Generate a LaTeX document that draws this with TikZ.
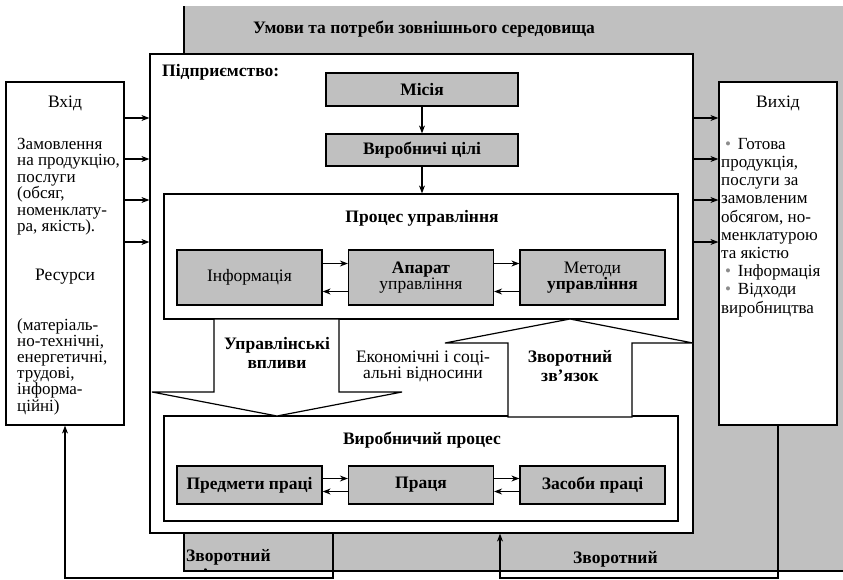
\documentclass[tikz,border=0pt]{standalone}
\usepackage{fontspec}
\setmainfont{Liberation Serif}
\usetikzlibrary{arrows.meta}
\definecolor{G0}{RGB}{192,192,192}
\definecolor{G1}{RGB}{140,140,140}
\newcommand{\gdot}{\hspace*{4pt}\textcolor{G1}{•}\hspace{0.4em}}

\begin{document}
\begin{tikzpicture}[x=1pt, y=-1pt,
    every node/.style={font=\fontsize{17.5}{16.5}\selectfont},
    frame/.style={draw, line width=1.2pt, fill=white, inner sep=0pt},
    gbox/.style={draw, line width=1.2pt, fill=G0, inner sep=0pt, align=center, minimum width=145pt},
    bf/.style={font=\fontsize{17.5}{19}\selectfont\bfseries, align=center},
    txt/.style={align=left, inner sep=0pt},
    arr/.style={line width=1.1pt, -{Stealth[length=8pt, width=6pt]}},
    blk/.style={draw, line width=1.2pt, fill=white, line join=miter}
]

    \useasboundingbox (0,0) rectangle (843,579);

    %% Environment
    \fill[G0] (184,6) rectangle (843,571);
    \draw[line width=1.2pt] (184,6) -- (184,571) -- (843,571);
    \node[bf] (envt) at (424,29) {Умови та потреби зовнішнього середовища};

    %% Enterprise
    \node[frame, minimum width=543pt, minimum height=479pt] (ent) at (421.5,293.5) {};
    \node[bf, anchor=west, inner sep=0pt] (entt) at (162,72) {Підприємство:};

    %% Input
    \node[frame, minimum width=118pt, minimum height=343pt] (inp) at (65,253.5) {};
    \node (inpt) at (65,103) {Вхід};
    \node[txt, anchor=north west, font=\fontsize{17}{16.5}\selectfont] (inpa) at (17,138)
        {Замовлення\\на продукцію,\\послуги\\(обсяг,\\номенклату-\\ра, якість).};
    \node (inpr) at (65,277) {Ресурси};
    \node[txt, anchor=north west, font=\fontsize{17}{16.2}\selectfont] (inpb) at (17,318)
        {(матеріаль-\\но-технічні,\\енергетичні,\\трудові,\\інформа-\\ційні)};

    %% Output
    \node[frame, minimum width=118pt, minimum height=343pt] (out) at (778,253.5) {};
    \node (outt) at (778,103) {Вихід};
    \node[txt, anchor=north west, font=\fontsize{17}{18.2}\selectfont] (outa) at (721,138)
        {\gdot Готова\\продукція,\\послуги за\\замовленим\\обсягом, но-\\менклатурою\\та якістю\\\gdot Інформація\\\gdot Відходи\\виробництва};

    \foreach \y in {118,159,200,242} {
        \draw[arr] (inp.east |- 0,\y) -- (ent.west |- 0,\y);
        \draw[arr] (ent.east |- 0,\y) -- (out.west |- 0,\y);
    }

    %% Mission and goals
    \node[gbox, bf, minimum width=192pt, minimum height=33pt] (mis) at (422,89.5) {Місія};
    \node[gbox, bf, minimum width=192pt, minimum height=32pt] (goal) at (422,150) {Виробничі цілі};

    %% Management process
    \node[frame, minimum width=514pt, minimum height=125pt] (proc) at (421,256.5) {};
    \node[bf] (proct) at (422,218) {Процес управління};
    \node[gbox, minimum height=55pt] (info) at (249.5,277.5) {Інформація};
    \node[gbox, minimum height=55pt] (appar) at (421,277.5) {\textbf{Апарат}\\управління};
    \node[gbox, minimum height=55pt] (meth) at (592.5,277.5) {Методи\\\textbf{управління}};

    \draw[arr] (mis) -- (goal);
    \draw[arr] (goal.south) -- (goal.south |- proc.north);

    \draw[arr] ([yshift=14pt]info.east) -- ([yshift=14pt]appar.west);
    \draw[arr] ([yshift=-14pt]appar.west) -- ([yshift=-14pt]info.east);
    \draw[arr] ([yshift=14pt]appar.east) -- ([yshift=14pt]meth.west);
    \draw[arr] ([yshift=-14pt]meth.west) -- ([yshift=-14pt]appar.east);

    %% Production process
    \node[frame, minimum width=514pt, minimum height=105pt] (prod) at (421,468.5) {};
    \node[bf] (prodt) at (422,440) {Виробничий процес};
    \node[gbox, bf, minimum height=38pt] (subj) at (249.5,485) {Предмети праці};
    \node[gbox, bf, minimum height=38pt] (lab) at (421,485) {Праця};
    \node[gbox, bf, minimum height=38pt] (means) at (592.5,485) {Засоби праці};

    \draw[arr] ([yshift=6.5pt]subj.east) -- ([yshift=6.5pt]lab.west);
    \draw[arr] ([yshift=-6.5pt]lab.west) -- ([yshift=-6.5pt]subj.east);
    \draw[arr] ([yshift=6.5pt]lab.east) -- ([yshift=6.5pt]means.west);
    \draw[arr] ([yshift=-6.5pt]means.west) -- ([yshift=-6.5pt]lab.east);

    %% Block arrows
    \draw[blk] (214,319) -- (214,392) -- (152,392) -- (277,416) -- (402,392) -- (339,392) -- (339,319) -- cycle;
    \draw[blk] (508,417) -- (508,343) -- (445,343) -- (570,319) -- (693,343) -- (632,343) -- (632,417) -- cycle;
    \node[bf] (infl) at (277,353) {Управлінські\\впливи};
    \node[bf] (fbk) at (570,366) {Зворотний\\зв’язок};
    \node[align=center] (econ) at (423,366.5) {Економічні і соці-\\альні відносини};

    %% Feedback loops
    \coordinate (fbL) at (333,578);
    \coordinate (fbR) at (500,578);
    \draw[arr] (ent.south -| fbL) -- (fbL) -| (inp.south);
    \draw[arr] (out.south) |- (fbR) -- (ent.south -| fbR);

    \begin{scope}
        \clip (184,533) rectangle (843,571);
        \node[bf, align=left, anchor=north west, inner sep=0pt] (fbl) at (186,549) {Зворотний\\зв’язок};
        \node[bf, align=left, anchor=north west, inner sep=0pt] (fbr) at (573,551) {Зворотний\\зв’язок};
    \end{scope}

\end{tikzpicture}
\end{document}
